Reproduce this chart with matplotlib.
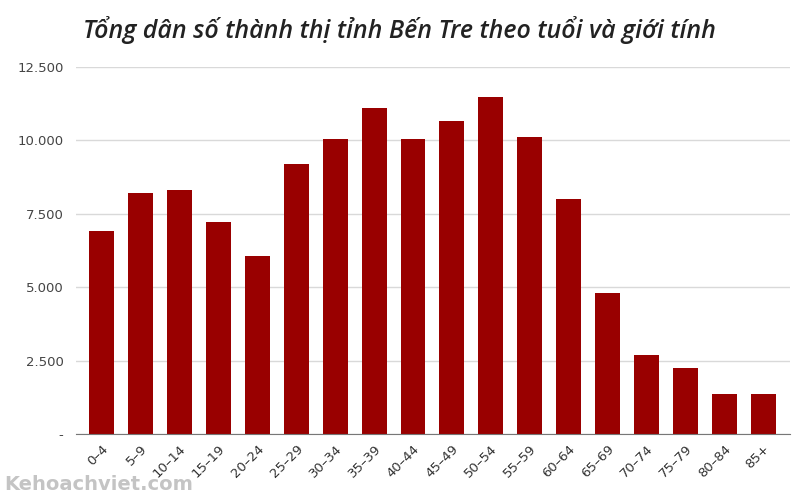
import matplotlib.pyplot as plt
from matplotlib.ticker import FixedLocator

# dữ liệu
age_groups = ['0–4', '5–9', '10–14', '15–19', '20–24', '25–29', '30–34', '35–39',
              '40–44', '45–49', '50–54', '55–59', '60–64', '65–69', '70–74',
              '75–79', '80–84', '85+']
population = [6900, 8200, 8300, 7220, 6070, 9200, 10050, 11100,
              10050, 10660, 11480, 10110, 8000, 4800, 2690, 2250, 1360, 1360]
y_ticks = [0, 2500, 5000, 7500, 10000, 12500]
y_tick_labels = ['-', '2.500', '5.000', '7.500', '10.000', '12.500']

fig = plt.figure(figsize=(8, 5), dpi=100)
ax = fig.add_axes([0.095, 0.132, 0.8925, 0.734])

x = range(len(age_groups))
ax.bar(x, population, width=0.64, color='#990000', zorder=3)

ax.set_xlim(-0.66, len(age_groups) - 1 + 0.69)
ax.set_ylim(0, 12500)
ax.yaxis.set_major_locator(FixedLocator(y_ticks))
ax.set_yticklabels(y_tick_labels, fontsize=9.5, color='#444444')
ax.set_xticks(list(x))
ax.set_xticklabels(age_groups, rotation=45, ha='right', rotation_mode='anchor',
                   fontsize=9.5, color='#333333')
ax.tick_params(axis='both', length=0)
ax.tick_params(axis='y', pad=9)
ax.tick_params(axis='x', pad=6)

ax.grid(axis='y', color='#d9d9d9', linewidth=1, zorder=0)
for s in ['top', 'right', 'left']:
    ax.spines[s].set_visible(False)
ax.spines['bottom'].set_color('#777777')
ax.spines['bottom'].set_zorder(4)

fig.text(0.499, 0.94, 'Tổng dân số thành thị tỉnh Bến Tre theo tuổi và giới tính',
         ha='center', va='center', fontsize=18, style='italic', weight='semibold',
         family='Open Sans', color='#222222')

fig.text(0.005, 0.03, 'Kehoachviet.com', ha='left', va='center', fontsize=14,
         weight='bold', color='#c4c4c4', family='DejaVu Sans')

plt.savefig('out.png', dpi=100)
